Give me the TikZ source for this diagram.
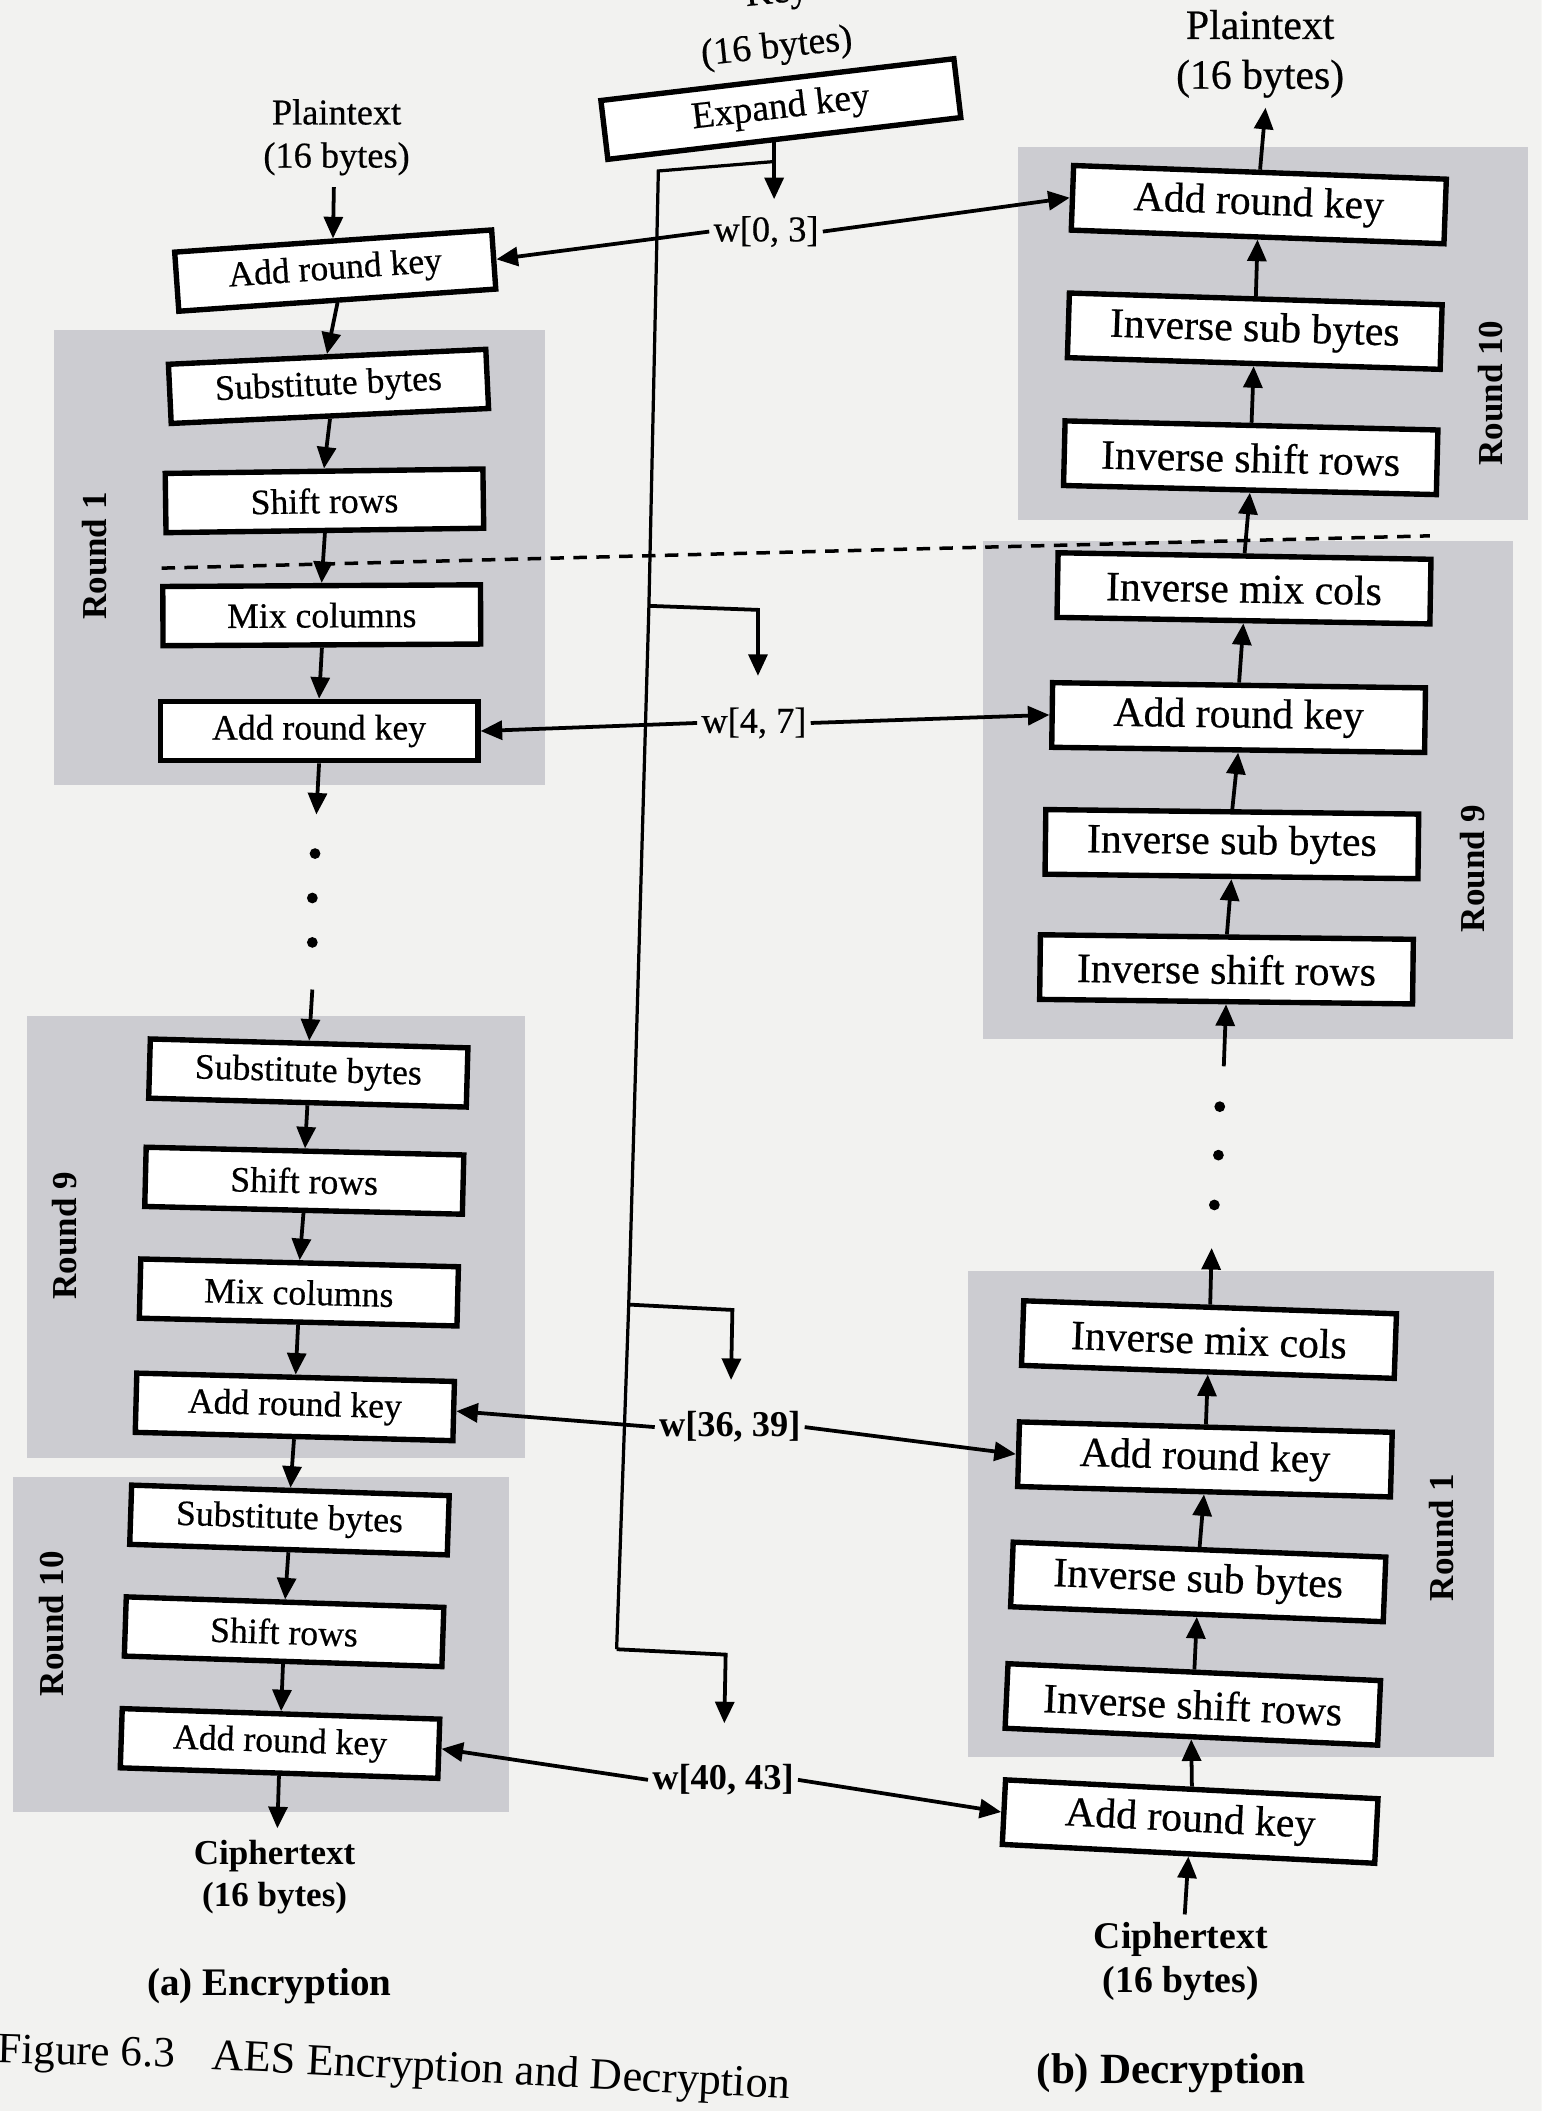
\documentclass[tikz,border=0pt]{standalone}
\usepackage{fontspec}
\setmainfont{Liberation Serif}
\newfontfamily\inkfont{Liberation Serif}[FakeBold=0.5]
\usetikzlibrary{arrows.meta}
\definecolor{paper}{RGB}{242,242,240}
\definecolor{roundgray}{RGB}{204,204,209}
\begin{document}
\begin{tikzpicture}[x=1pt,y=-1pt,
  opbox/.style={draw=black, line width=4pt, fill=white, inner sep=0pt,
    minimum width=236pt, minimum height=44pt, font=\inkfont\fontsize{26.5}{31}\selectfont},
  decbox/.style={opbox, minimum width=277pt, minimum height=48pt,
    font=\inkfont\fontsize{31}{37}\selectfont},
  flow/.style={line width=2.8pt, -{Triangle[length=16pt,width=14pt]}},
  keyline/.style={line width=2.4pt},
  roundbg/.style={fill=roundgray, draw=none},
  roundlbl/.style={rotate=90, font=\bfseries\fontsize{26}{30}\selectfont},
  wlbl/.style={font=\inkfont\fontsize{27}{32}\selectfont, inner sep=3pt},
  wlblb/.style={font=\bfseries\fontsize{27}{32}\selectfont, inner sep=3pt},
  io/.style={align=center, font=\inkfont\fontsize{27}{32}\selectfont, inner sep=0pt},
  iob/.style={align=center, font=\bfseries\fontsize{26}{31}\selectfont, inner sep=0pt},
  dot/.style={circle, fill=black, inner sep=0pt, minimum size=8pt}
]
\useasboundingbox (0,0) rectangle (1145,1568);
\clip (0,0) rectangle (1145,1568);
\fill[paper] (0,0) rectangle (1145,1568);

% shaded round groups
\path[roundbg] (40,245) rectangle (405,583);
\path[roundbg] (20,755) rectangle (390,1083);
\path[roundbg] (10,1097) rectangle (378,1346);
\path[roundbg] (756,109) rectangle (1135,386);
\path[roundbg] (730,402) rectangle (1124,772);
\path[roundbg] (719,944) rectangle (1110,1305);

% boundary between the first and last rounds
\draw[line width=2.6pt, dash pattern=on 10pt off 7pt] (120,422) -- (1062,398);

% round labels
\node[roundlbl] (lr1) at (70,413) {Round 1};
\node[roundlbl] (lr9) at (48,918) {Round 9};
\node[roundlbl] (lr10) at (38,1206) {Round 10};
\node[roundlbl] (rr10) at (1107,292) {Round 10};
\node[roundlbl] (rr9) at (1094,645) {Round 9};
\node[roundlbl] (rr1) at (1071,1142) {Round 1};

% key schedule
\node[io, font=\inkfont\fontsize{28}{33}\selectfont, rotate=6] (keyin) at (577,-4) {Key};
\node[io, font=\inkfont\fontsize{28}{33}\selectfont, rotate=6] (keybytes) at (577,36) {(16 bytes)};
\node[opbox, minimum width=264pt, minimum height=44pt, rotate=6.75,
      font=\inkfont\fontsize{28}{33}\selectfont] (exp) at (580,81) {Expand key};

\node[wlbl] (w03) at (569,172) {w[0, 3]};
\node[wlbl] (w47) at (560,537) {w[4, 7]};
\node[wlblb] (w3639) at (542,1060) {w[36, 39]};
\node[wlblb] (w4043) at (537,1322) {w[40, 43]};

\coordinate (kfork) at (575,120);
\coordinate (k0) at (489,127);
\coordinate (k1) at (482,450);
\coordinate (k2) at (467,969);
\coordinate (k3) at (458,1225);
\coordinate (b1) at (563,453);
\coordinate (b2) at (544,973);
\coordinate (b3) at (539,1229);

\draw[keyline] (kfork) -- (k0) -- (k1) -- (k2) -- (k3);
\draw[flow] (575,104) -- (575,148);
\draw[flow] (k1) -- (b1) -- (563,502);
\draw[flow] (k2) -- (b2) -- (543,1025);
\draw[flow] (k3) -- (b3) -- (538,1280);

% encryption column
\node[io] (ptin) at (250,102) {Plaintext\\(16 bytes)};
\node[opbox, rotate=4] (ark0) at (249,201) {Add round key};
\node[opbox, rotate=2.7] (sb1) at (244,287) {Substitute bytes};
\node[opbox, rotate=0.8] (sr1) at (241,372) {Shift rows};
\node[opbox, rotate=0.3] (mc1) at (239,457) {Mix columns};
\node[opbox] (ark1) at (237,543) {Add round key};
\node[opbox, rotate=-1.6] (sb9) at (229,797) {Substitute bytes};
\node[opbox, rotate=-1.4] (sr9) at (226,877) {Shift rows};
\node[opbox, rotate=-1.4] (mc9) at (222,960) {Mix columns};
\node[opbox, rotate=-1.5] (ark9) at (219,1045) {Add round key};
\node[opbox, rotate=-1.9] (sb10) at (215,1129) {Substitute bytes};
\node[opbox, rotate=-1.9] (sr10) at (211,1212) {Shift rows};
\node[opbox, rotate=-1.9] (ark10) at (208,1295) {Add round key};
\node[iob] (ctout) at (204,1394) {Ciphertext\\(16 bytes)};
\node[font=\bfseries\fontsize{29}{34}\selectfont] (capa) at (200,1475) {(a) Encryption};

\coordinate (encin) at (248,139);
\coordinate (encgap1) at (235,605);
\coordinate (encgap2) at (232,735);
\coordinate (encout) at (206,1358);
\draw[flow] (encin) -- (ark0.north);
\draw[flow] (ark0.south) -- (sb1.north);
\draw[flow] (sb1.south) -- (sr1.north);
\draw[flow] (sr1.south) -- (mc1.north);
\draw[flow] (mc1.south) -- (ark1.north);
\draw[flow] (ark1.south) -- (encgap1);
\node[dot] (ld1) at (234,634) {};
\node[dot] (ld2) at (232,667) {};
\node[dot] (ld3) at (232,700) {};
\draw[flow] (encgap2) -- (sb9.north);
\draw[flow] (sb9.south) -- (sr9.north);
\draw[flow] (sr9.south) -- (mc9.north);
\draw[flow] (mc9.south) -- (ark9.north);
\draw[flow] (ark9.south) -- (sb10.north);
\draw[flow] (sb10.south) -- (sr10.north);
\draw[flow] (sr10.south) -- (ark10.north);
\draw[flow] (ark10.south) -- (encout);

% decryption column
\node[io, font=\inkfont\fontsize{31}{37}\selectfont] (ptout) at (936,40) {Plaintext\\(16 bytes)};
\node[decbox, rotate=-2.1] (dark10) at (935,152) {Add round key};
\node[decbox, rotate=-1.8] (disb10) at (932,246) {Inverse sub bytes};
\node[decbox, rotate=-1.4] (disr10) at (929,340) {Inverse shift rows};
\node[decbox, rotate=-1] (dimc9) at (924,437) {Inverse mix cols};
\node[decbox, rotate=-0.8] (dark9) at (920,533) {Add round key};
\node[decbox, rotate=-0.7] (disb9) at (915,627) {Inverse sub bytes};
\node[decbox, rotate=-0.7] (disr9) at (911,720) {Inverse shift rows};
\node[decbox, rotate=-2] (dimc1) at (898,995) {Inverse mix cols};
\node[decbox, rotate=-1.6] (dark1) at (895,1084) {Add round key};
\node[decbox, rotate=-2.3] (disb1) at (890,1175) {Inverse sub bytes};
\node[decbox, rotate=-2.6] (disr1) at (886,1266) {Inverse shift rows};
\node[decbox, rotate=-2.9] (dark0) at (884,1353) {Add round key};
\node[iob, font=\bfseries\fontsize{28}{33}\selectfont] (ctin) at (877,1457) {Ciphertext\\(16 bytes)};
\node[font=\bfseries\fontsize{32}{38}\selectfont] (capb) at (870,1540) {(b) Decryption};

\coordinate (decout) at (940,80);
\coordinate (decgap1) at (909,792);
\coordinate (decgap2) at (900,927);
\coordinate (decin) at (880,1422);
\draw[flow] (decin) -- (dark0.south);
\draw[flow] (dark0.north) -- (disr1.south);
\draw[flow] (disr1.north) -- (disb1.south);
\draw[flow] (disb1.north) -- (dark1.south);
\draw[flow] (dark1.north) -- (dimc1.south);
\draw[flow] (dimc1.north) -- (decgap2);
\node[dot] (rd1) at (906,822) {};
\node[dot] (rd2) at (905,858) {};
\node[dot] (rd3) at (902,895) {};
\draw[flow] (decgap1) -- (disr9.south);
\draw[flow] (disr9.north) -- (disb9.south);
\draw[flow] (disb9.north) -- (dark9.south);
\draw[flow] (dark9.north) -- (dimc9.south);
\draw[flow] (dimc9.north) -- (disr10.south);
\draw[flow] (disr10.north) -- (disb10.south);
\draw[flow] (disb10.north) -- (dark10.south);
\draw[flow] (dark10.north) -- (decout);

% round keys fed to both columns
\draw[flow] (w03.west) -- (ark0.east);
\draw[flow] (w03.east) -- (dark10.west);
\draw[flow] (w47.west) -- (ark1.east);
\draw[flow] (w47.east) -- (dark9.west);
\draw[flow] (w3639.west) -- (ark9.east);
\draw[flow] (w3639.east) -- (dark1.west);
\draw[flow] (w4043.west) -- (ark10.east);
\draw[flow] (w4043.east) -- (dark0.west);

% figure caption
\node[font=\fontsize{32}{38}\selectfont, anchor=base west, inner sep=0pt, rotate=-1.5] (figno) at (-2,1532) {Figure 6.3};
\node[font=\fontsize{33}{39}\selectfont, anchor=base west, inner sep=0pt, rotate=-2.9] (figtitle) at (157,1537) {AES Encryption and Decryption};
\end{tikzpicture}
\end{document}
